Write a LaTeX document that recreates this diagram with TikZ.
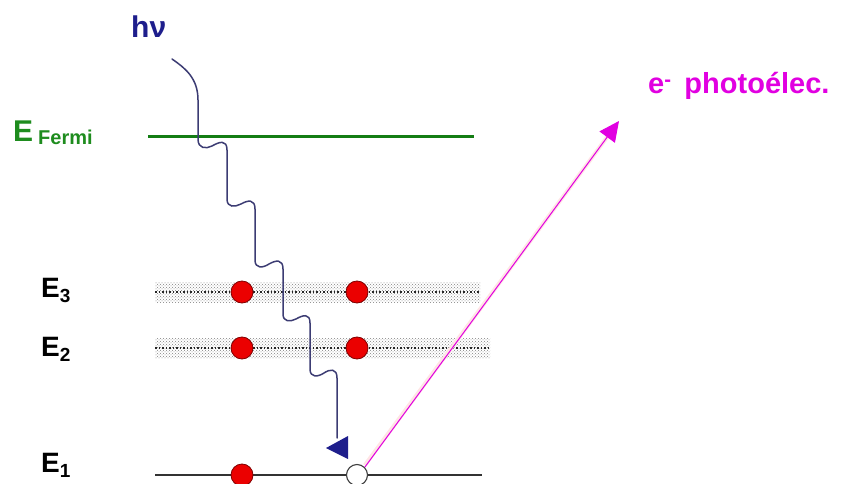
\documentclass[tikz,border=0pt]{standalone}
\usepackage{fontspec}
\setmainfont{Liberation Sans}
\usetikzlibrary{arrows.meta,patterns}
\definecolor{fermigreen}{RGB}{20,125,20}
\definecolor{labelgreen}{RGB}{30,140,30}
\definecolor{wavecol}{RGB}{60,60,115}
\definecolor{navy}{RGB}{30,30,140}
\definecolor{elecmag}{RGB}{225,0,225}
\definecolor{dotred}{RGB}{235,0,0}
\begin{document}
\begin{tikzpicture}[x=1pt,y=-1pt,
  elabel/.style={anchor=base west,inner sep=0pt,font=\fontsize{28}{30}\selectfont\bfseries},
  electron/.style={circle,draw=red!50!black,fill=dotred,minimum size=22pt,inner sep=0pt,line width=0.8pt},
  hole/.style={circle,draw=black!75,fill=white,minimum size=21pt,inner sep=0pt,line width=1.1pt},
  band/.style={pattern=crosshatch dots,pattern color=black!50},
  bandcore/.style={dotted,line width=1.5pt,black!85},
  photon/.style={wavecol,line width=1.5pt},
  emit/.style={elecmag,line width=1pt}]
\useasboundingbox (0,0) rectangle (844,484);

% labels
\node[elabel,navy,font=\fontsize{30}{32}\selectfont\bfseries] (hv) at (131,38) {hν};
\node[elabel,labelgreen,font=\fontsize{30}{32}\selectfont\bfseries] (ef) at (13,142) {E\,\raisebox{-3pt}{\fontsize{20}{20}\selectfont\bfseries Fermi}};
\node[elabel] (e3) at (41,297) {E\raisebox{-5pt}{\fontsize{19}{19}\selectfont\bfseries 3}};
\node[elabel] (e2) at (41,356) {E\raisebox{-5pt}{\fontsize{19}{19}\selectfont\bfseries 2}};
\node[elabel] (e1) at (41,472) {E\raisebox{-5pt}{\fontsize{19}{19}\selectfont\bfseries 1}};
\node[elabel,elecmag,font=\fontsize{29}{31}\selectfont\bfseries] (pe) at (648,94) {e\textsuperscript{\raisebox{-2pt}{-}}\, photoélec.};

% Fermi level
\coordinate (fl) at (148,137);
\coordinate (fr) at (474,137);
\draw[fermigreen,line width=3pt] (fl) -- (fr);

% bands E3, E2
\fill[band] (155,282) rectangle (480,302);
\coordinate (b3l) at (155,292); \coordinate (b3r) at (480,292);
\draw[bandcore] (b3l) -- (b3r);
\fill[band] (155,338) rectangle (490,358);
\coordinate (b2l) at (155,348); \coordinate (b2r) at (490,348);
\draw[bandcore] (b2l) -- (b2r);

% E1 level
\coordinate (l1l) at (155,475); \coordinate (l1r) at (482,475);
\draw[black!80,line width=1.4pt] (l1l) -- (l1r);

% electrons
\node[electron] (a3) at (242,292) {};
\node[electron] (b3) at (357,292) {};
\node[electron] (a2) at (242,348) {};
\node[electron] (b2) at (357,348) {};
\node[electron] (a1) at (242,475) {};
\node[hole] (h1) at (357,475) {};

% photon (wavy)
\coordinate (ps) at (172,59);
\coordinate (pend) at (337,438);
\draw[photon,line cap=round] (ps) .. controls (185,68) and (198,78) .. (198,100) -- (198,139)
  .. controls (198,149) and (206,149) .. (212,146) .. controls (219,142) and (227,139) .. (227,150) -- (227,199)
  .. controls (227,208) and (235,207) .. (241,204) .. controls (248,200) and (255,199) .. (255,209) -- (255,260)
  .. controls (255,269) and (263,268) .. (269,264) .. controls (276,260) and (283,259) .. (283,269) -- (283,314)
  .. controls (283,322) and (290,322) .. (296,319) .. controls (303,315) and (310,313) .. (310,323) -- (310,369)
  .. controls (310,378) and (318,377) .. (324,373) .. controls (330,369) and (337,368) .. (337,378) -- (pend);
\fill[navy] (326,448) -- (348,436) -- (348,459) -- cycle;

% photoelectron
\coordinate (tip) at (619,121);
\draw[pink!40,line width=4pt,shorten >=14pt] (h1.north east) ++(0,-2) -- (tip);
\draw[emit,-{Triangle[length=20pt,width=19pt]}] (h1.north east) -- (tip);
\end{tikzpicture}
\end{document}
